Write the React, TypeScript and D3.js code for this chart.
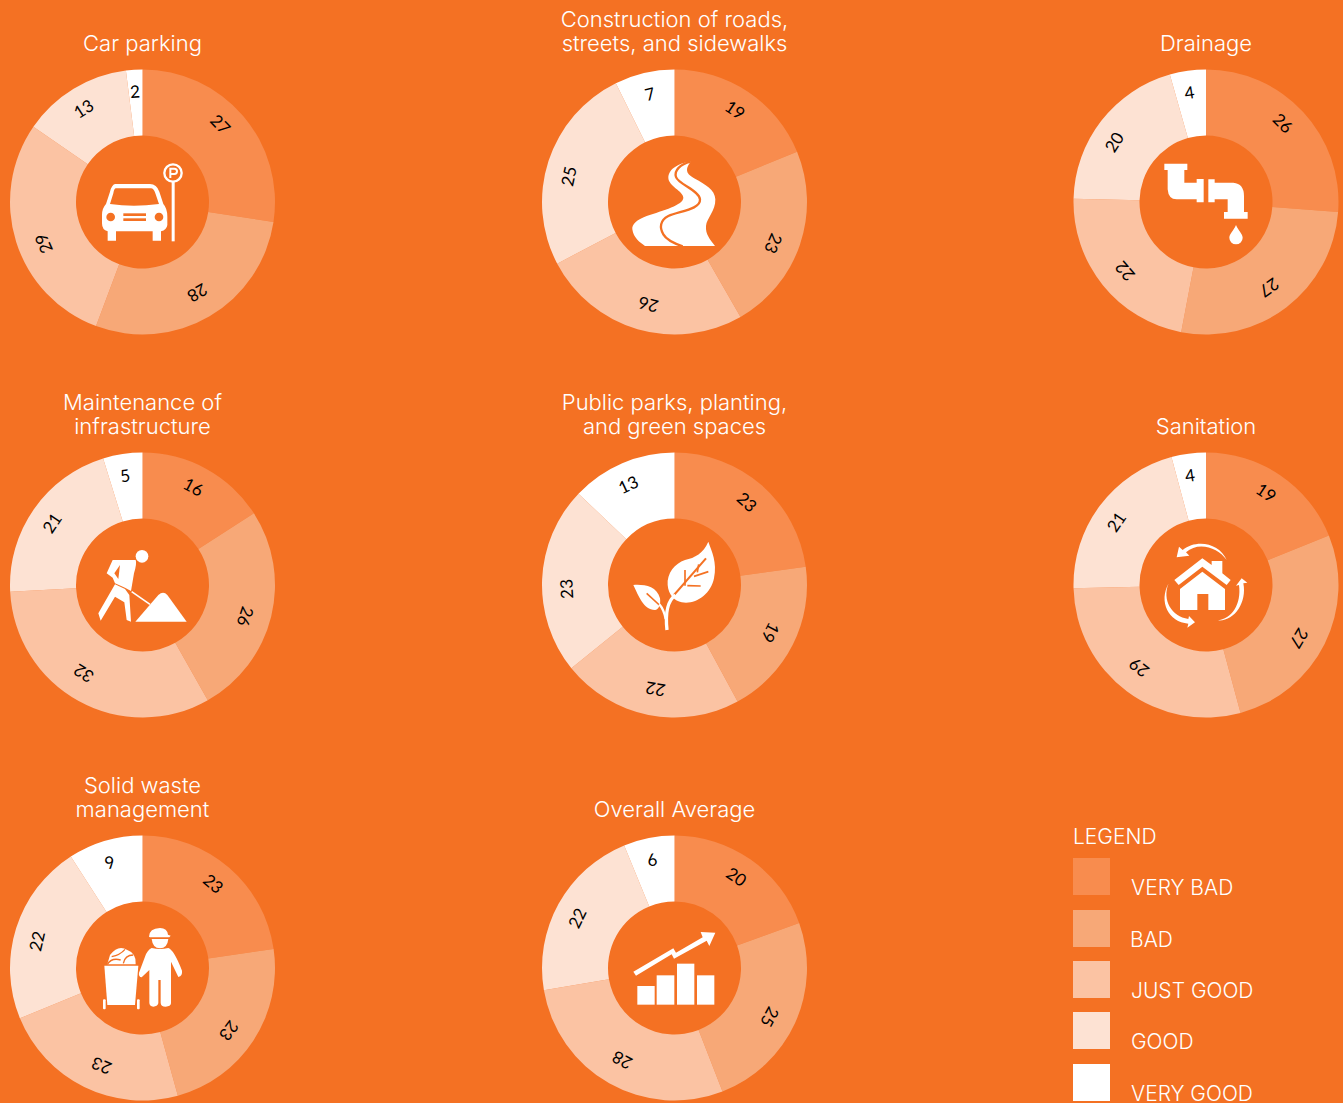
import React from "react";
import * as d3 from "d3";

const levels = ["VERY BAD", "BAD", "JUST GOOD", "GOOD", "VERY GOOD"];
const levelColors = ["#F88C4E", "#F7A877", "#FBC3A3", "#FDE2D3", "#FFFFFF"];
const BG = "#F47123";

// Unrounded shares estimated from the slice boundaries; labels show the rounded value.
const carParking = [27.4, 28.3, 28.9, 13.4, 2.0];
const roads = [18.8, 22.9, 25.6, 25.4, 7.3];
const drainage = [26.2, 26.8, 22.4, 20.2, 4.4];
const maintenance = [15.9, 25.9, 32.4, 21.0, 4.8];
const parks = [22.8, 19.3, 22.1, 22.9, 12.9];
const sanitation = [18.9, 26.9, 28.8, 21.2, 4.2];
const solidWaste = [22.7, 23.0, 23.1, 22.1, 9.1];
const overall = [19.5, 24.6, 28.2, 21.5, 6.2];

// Angle (degrees clockwise from top) of each value label.
const carAngles = [46, 149.5, 246, 327, 356];
const roadAngles = [34, 114, 194, 282.4, 346.8];
const drainAngles = [45.2, 144.4, 228.6, 302, 351.2];
const maintAngles = [28.1, 108.3, 212.9, 303.3, 350.8];
const parkAngles = [42, 117.6, 190.2, 266.6, 334.7];
const sanitAngles = [33.8, 120.9, 218.3, 304, 351.5];
const wasteAngles = [40.9, 127, 202.3, 283, 342.4];
const overallAngles = [34.9, 118.3, 209, 296, 348];

const TITLE_FONT = "Inter, Lato, sans-serif";

const CarIcon = () => (
  <g fill="#fff">
    <path d="M345 552H450Q470 552 478 575L490 612Q502 625 502 650V675Q500 690 483 694V722H458V694H348V722H323V694Q306 690 306 670V645Q306 625 318 612L330 575Q335 555 345 552Z" />
    <path d="M347 565H453Q461 565 466 580L477 612Q400 622 330 612L340 580Q342 567 347 565Z" fill={BG} />
    <circle cx="332" cy="651" r="13" fill={BG} />
    <circle cx="477" cy="651" r="13" fill={BG} />
    <rect x="370" y="640" width="68" height="8" fill={BG} />
    <rect x="370" y="655" width="68" height="8" fill={BG} />
    <rect x="515" y="545" width="9" height="179" />
    <circle cx="519" cy="519" r="26" fill={BG} stroke="#fff" strokeWidth="7" />
    <path d="M511 534V506H523A8 8 0 0 1 523 522H511" fill="none" stroke="#fff" strokeWidth="6" />
  </g>
);

const RoadIcon = () => (
  <g>
    <path fill="#fff" d="M272 92C240 95 205 112 205 140C205 165 250 180 250 200C250 222 190 238 140 255C110 266 95 280 97 295C100 320 120 335 135 345H345C330 325 316 310 318 285C320 262 347 240 346 205C345 175 315 160 285 143C265 132 250 120 272 92Z" />
    <path fill="none" stroke={BG} strokeWidth="7" d="M272 92C240 100 222 118 228 138C235 160 298 178 300 205C302 235 240 240 205 255C180 268 178 290 190 310C200 328 225 338 248 346" />
  </g>
);

const PipeIcon = () => (
  <g fill="#fff">
    <path d="M103 98H172V117H163V155H200V144H221V214H200V205H140Q115 205 113 175V117H103Z" />
    <path d="M235 145H254V155H310Q342 158 342 195V243H353V263H282V243H293V205H254V214H235Z" />
    <path d="M318 282C310 300 298 310 298 320A20 20 0 0 0 338 320C338 310 326 300 318 282Z" />
  </g>
);

const WorkerIcon = () => (
  <g fill="#fff">
    <circle cx="216" cy="124" r="19" />
    <path d="M128 135H197Q201 145 192 175L183 228L165 218L135 205L128 188L110 175Z" />
    <path d="M150 150L133 175L145 192Z" fill={BG} />
    <path d="M135 208L85 295L92 317L135 245L163 262L170 315L183 320L178 240L165 222Z" />
    <path d="M185 230L240 268" stroke="#fff" strokeWidth="5" fill="none" />
    <path d="M196 320L265 240Q280 226 292 240L350 320Z" />
  </g>
);

const LeafIcon = () => (
  <g>
    <path fill="#fff" d="M325 80C335 110 352 140 342 190C332 240 285 270 245 262C225 258 205 240 203 210C200 175 225 145 255 135C285 128 310 115 325 80Z" />
    <path fill="#fff" d="M100 210C130 208 170 212 180 250C183 270 175 285 165 285C130 285 115 240 100 210Z" />
    <g fill="none" stroke={BG} strokeWidth="5">
      <path d="M222 240L318 130" strokeWidth="6" />
      <path d="M255 212L255 165M292 172L296 148M262 212L302 213M282 184L325 170" />
      <path d="M140 235L178 270" />
    </g>
    <path fill="none" stroke="#fff" strokeWidth="10" d="M226 240C202 258 195 290 201 345" />
    <path fill="none" stroke="#fff" strokeWidth="7" d="M178 268C188 280 194 295 197 312" />
  </g>
);

const HouseIcon = () => (
  <g fill="#fff">
    <path d="M133 195L217 130L245 150V138H277V175L302 195L290 210L217 155L146 210Z" />
    <path d="M217 170L285 222V285H235V237H202V285H150V222Z" />
    <path d="M290 135C265 98 205 78 168 112L178 122L140 127L147 95L158 105C200 70 270 85 290 135Z" />
    <path d="M262 316C305 312 335 268 327 210L318 212L335 190L352 203L340 205C352 265 310 322 262 316Z" />
    <path d="M116 205C95 255 125 305 175 312L177 303L195 322L172 338L175 326C115 322 85 260 116 205Z" />
  </g>
);

const WasteIcon = () => (
  <g fill="#fff">
    <path d="M237 110Q238 85 270 84Q292 85 294 104L302 107L298 112H240Z" />
    <path d="M245 117H295Q292 145 270 145Q248 145 245 117Z" />
    <path d="M245 144Q270 150 295 144Q312 150 336 212Q338 228 325 231L303 185V310Q302 320 287 320Q272 320 272 308V240H265V310Q262 320 250 320Q238 318 238 308V210L215 232Q205 230 207 218L225 170Q232 150 245 144Z" />
    <path d="M103 197H205L195 315H112Z" />
    <rect x="99" y="298" width="8" height="30" rx="3" />
    <rect x="201" y="298" width="8" height="30" rx="3" />
    <path d="M120 165Q145 132 172 150Q200 160 197 193H112Z" />
    <path d="M112 193Q125 172 152 180M160 190Q165 165 190 165M125 170Q150 165 165 148" fill="none" stroke={BG} strokeWidth="4" />
  </g>
);

const ChartIcon = () => (
  <g fill="#fff">
    <rect x="112" y="258" width="52" height="56" />
    <rect x="170" y="226" width="53" height="88" />
    <rect x="231" y="191" width="52" height="123" />
    <rect x="291" y="226" width="52" height="88" />
    <path d="M100 215L220 145L228 158L308 112L302 96L346 98L328 138L320 122L222 176L215 163L108 227Z" />
  </g>
);

const panels = [
  { title: ["Car parking"], values: carParking, angles: carAngles, cx: 142.5, cy: 202, Icon: CarIcon, ax: 427.5, ay: 606 },
  { title: ["Construction of roads,", "streets, and sidewalks"], values: roads, angles: roadAngles, cx: 674.5, cy: 202, Icon: RoadIcon, ax: 223.5, ay: 213 },
  { title: ["Drainage"], values: drainage, angles: drainAngles, cx: 1206, cy: 202, Icon: PipeIcon, ax: 228, ay: 213 },
  { title: ["Maintenance of", "infrastructure"], values: maintenance, angles: maintAngles, cx: 142.5, cy: 585, Icon: WorkerIcon, ax: 217.5, ay: 210 },
  { title: ["Public parks, planting,", "and green spaces"], values: parks, angles: parkAngles, cx: 674.5, cy: 585, Icon: LeafIcon, ax: 223.5, ay: 210 },
  { title: ["Sanitation"], values: sanitation, angles: sanitAngles, cx: 1206, cy: 585, Icon: HouseIcon, ax: 228, ay: 210 },
  { title: ["Solid waste", "management"], values: solidWaste, angles: wasteAngles, cx: 142.5, cy: 968, Icon: WasteIcon, ax: 217.5, ay: 204 },
  { title: ["Overall Average"], values: overall, angles: overallAngles, cx: 674.5, cy: 968, Icon: ChartIcon, ax: 223.5, ay: 204 },
];

const R_OUT = 132.5;
const R_IN = 66.5;
const R_LABEL = 108;

const pie = d3.pie<number>().sort(null).value((d) => d);
const arc = d3.arc<d3.PieArcDatum<number>>().innerRadius(R_IN).outerRadius(R_OUT);

export default function App() {
  return (
    <svg
      width={1343}
      height={1103}
      style={{ position: "absolute", left: 0, top: 0, display: "block", background: BG }}
    >
      {panels.map((p, i) => (
        <g key={i} transform={`translate(${p.cx},${p.cy})`}>
          {pie(p.values).map((s, j) => (
            <path key={j} d={arc(s) as string} fill={levelColors[j]} />
          ))}
          {pie(p.values).map((s, j) => {
            const deg = p.angles[j];
            const rad = (deg * Math.PI) / 180;
            const x = R_LABEL * Math.sin(rad);
            const y = -R_LABEL * Math.cos(rad) - 2.5;
            return (
              <text
                key={j}
                transform={`translate(${x},${y}) rotate(${deg})`}
                textAnchor="middle"
                dy="0.35em"
                fontFamily="Lato, sans-serif"
                fontSize={17}
                fill="#000"
              >
                {Math.round(s.value)}
              </text>
            );
          })}
          <g transform={`scale(${1 / 3}) translate(${-p.ax},${-p.ay})`}>
            <p.Icon />
          </g>
          {p.title.map((line, k) => (
            <text
              key={k}
              x={0}
              y={-151 - (p.title.length - 1 - k) * 24}
              textAnchor="middle"
              fontFamily={TITLE_FONT}
              fontWeight={300}
              fontSize={22}
              fill="#fff"
            >
              {line}
            </text>
          ))}
        </g>
      ))}
      <text x={1073} y={843.5} fontFamily={TITLE_FONT} fontWeight={300} fontSize={21} fill="#fff">
        LEGEND
      </text>
      {levels.map((l, i) => {
        const top = [858, 910, 961, 1012, 1064][i];
        return (
          <g key={l}>
            <rect x={1073} y={top} width={37} height={37} fill={levelColors[i]} />
            <text
              x={i === 1 ? 1130 : 1131}
              y={top + 37}
              fontFamily={TITLE_FONT}
              fontWeight={300}
              fontSize={21}
              fill="#fff"
            >
              {l}
            </text>
          </g>
        );
      })}
    </svg>
  );
}
